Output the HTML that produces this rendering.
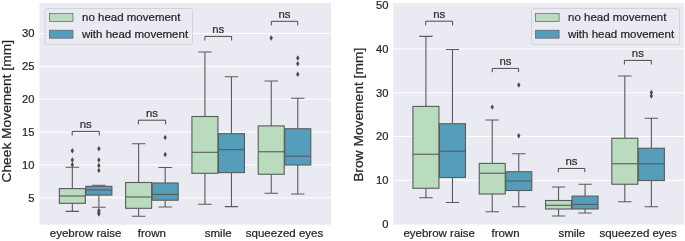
<!DOCTYPE html>
<html><head><meta charset="utf-8"><title>Boxplots</title>
<style>
html,body{margin:0;padding:0;background:#fff;}
svg{display:block;font-family:"Liberation Sans",sans-serif;}
text{stroke:#262626;stroke-width:0.22px;}
</style></head><body>
<svg width="685" height="241" viewBox="0 0 685 241">
<rect width="685" height="241" fill="#fff"/>
<rect x="39.5" y="3" width="291.50" height="221.70" fill="#eaeaf2"/>
<line x1="39.5" x2="331.0" y1="33.50" y2="33.50" stroke="#fff" stroke-width="1"/>
<line x1="39.5" x2="331.0" y1="66.35" y2="66.35" stroke="#fff" stroke-width="1"/>
<line x1="39.5" x2="331.0" y1="99.20" y2="99.20" stroke="#fff" stroke-width="1"/>
<line x1="39.5" x2="331.0" y1="132.05" y2="132.05" stroke="#fff" stroke-width="1"/>
<line x1="39.5" x2="331.0" y1="164.90" y2="164.90" stroke="#fff" stroke-width="1"/>
<line x1="39.5" x2="331.0" y1="197.75" y2="197.75" stroke="#fff" stroke-width="1"/>
<text x="34.5" y="37.30" text-anchor="end" font-size="11.2" fill="#262626">30</text>
<text x="34.5" y="70.15" text-anchor="end" font-size="11.2" fill="#262626">25</text>
<text x="34.5" y="103.00" text-anchor="end" font-size="11.2" fill="#262626">20</text>
<text x="34.5" y="135.85" text-anchor="end" font-size="11.2" fill="#262626">15</text>
<text x="34.5" y="168.70" text-anchor="end" font-size="11.2" fill="#262626">10</text>
<text x="34.5" y="201.55" text-anchor="end" font-size="11.2" fill="#262626">5</text>
<path d="M72.33 167.20V188.60M72.33 203.30V211.40M65.63 167.20H79.03M65.63 211.40H79.03" stroke="#5a5a5a" stroke-width="1.1" fill="none"/>
<rect x="59.33" y="188.60" width="26.0" height="14.70" fill="#badcbe" stroke="#5a5a5a" stroke-width="1.1"/>
<line x1="59.33" x2="85.33" y1="196.00" y2="196.00" stroke="#5a5a5a" stroke-width="1.1"/>
<path d="M72.33 148.00L74.03 150.70L72.33 153.40L70.63 150.70Z" fill="#4a4a4a"/>
<path d="M72.33 157.30L74.03 160.00L72.33 162.70L70.63 160.00Z" fill="#4a4a4a"/>
<path d="M72.33 162.00L74.03 164.70L72.33 167.40L70.63 164.70Z" fill="#4a4a4a"/>
<path d="M98.87 185.30V186.30M98.87 195.10V207.20M92.17 185.30H105.57M92.17 207.20H105.57" stroke="#5a5a5a" stroke-width="1.1" fill="none"/>
<rect x="85.87" y="186.30" width="26.0" height="8.80" fill="#549ebb" stroke="#5a5a5a" stroke-width="1.1"/>
<line x1="85.87" x2="111.87" y1="190.00" y2="190.00" stroke="#5a5a5a" stroke-width="1.1"/>
<path d="M98.87 146.10L100.57 148.80L98.87 151.50L97.17 148.80Z" fill="#4a4a4a"/>
<path d="M98.87 157.30L100.57 160.00L98.87 162.70L97.17 160.00Z" fill="#4a4a4a"/>
<path d="M98.87 162.80L100.57 165.50L98.87 168.20L97.17 165.50Z" fill="#4a4a4a"/>
<path d="M98.87 167.70L100.57 170.40L98.87 173.10L97.17 170.40Z" fill="#4a4a4a"/>
<path d="M98.87 207.80L100.57 210.50L98.87 213.20L97.17 210.50Z" fill="#4a4a4a"/>
<path d="M98.87 209.70L100.57 212.40L98.87 215.10L97.17 212.40Z" fill="#4a4a4a"/>
<path d="M98.87 211.30L100.57 214.00L98.87 216.70L97.17 214.00Z" fill="#4a4a4a"/>
<path d="M138.63 143.75V182.50M138.63 208.30V216.20M131.93 143.75H145.33M131.93 216.20H145.33" stroke="#5a5a5a" stroke-width="1.1" fill="none"/>
<rect x="125.63" y="182.50" width="26.0" height="25.80" fill="#badcbe" stroke="#5a5a5a" stroke-width="1.1"/>
<line x1="125.63" x2="151.63" y1="197.00" y2="197.00" stroke="#5a5a5a" stroke-width="1.1"/>
<path d="M165.17 167.50V183.00M165.17 200.20V207.00M158.47 167.50H171.87M158.47 207.00H171.87" stroke="#5a5a5a" stroke-width="1.1" fill="none"/>
<rect x="152.17" y="183.00" width="26.0" height="17.20" fill="#549ebb" stroke="#5a5a5a" stroke-width="1.1"/>
<line x1="152.17" x2="178.17" y1="194.40" y2="194.40" stroke="#5a5a5a" stroke-width="1.1"/>
<path d="M165.17 134.80L166.87 137.50L165.17 140.20L163.47 137.50Z" fill="#4a4a4a"/>
<path d="M165.17 151.80L166.87 154.50L165.17 157.20L163.47 154.50Z" fill="#4a4a4a"/>
<path d="M204.93 52.00V116.50M204.93 173.30V204.30M198.23 52.00H211.63M198.23 204.30H211.63" stroke="#5a5a5a" stroke-width="1.1" fill="none"/>
<rect x="191.93" y="116.50" width="26.0" height="56.80" fill="#badcbe" stroke="#5a5a5a" stroke-width="1.1"/>
<line x1="191.93" x2="217.93" y1="152.30" y2="152.30" stroke="#5a5a5a" stroke-width="1.1"/>
<path d="M231.47 76.75V133.70M231.47 172.60V206.60M224.77 76.75H238.17M224.77 206.60H238.17" stroke="#5a5a5a" stroke-width="1.1" fill="none"/>
<rect x="218.47" y="133.70" width="26.0" height="38.90" fill="#549ebb" stroke="#5a5a5a" stroke-width="1.1"/>
<line x1="218.47" x2="244.47" y1="149.60" y2="149.60" stroke="#5a5a5a" stroke-width="1.1"/>
<path d="M271.23 81.00V125.90M271.23 174.25V193.25M264.53 81.00H277.93M264.53 193.25H277.93" stroke="#5a5a5a" stroke-width="1.1" fill="none"/>
<rect x="258.23" y="125.90" width="26.0" height="48.35" fill="#badcbe" stroke="#5a5a5a" stroke-width="1.1"/>
<line x1="258.23" x2="284.23" y1="151.75" y2="151.75" stroke="#5a5a5a" stroke-width="1.1"/>
<path d="M271.23 35.30L272.93 38.00L271.23 40.70L269.53 38.00Z" fill="#4a4a4a"/>
<path d="M297.77 98.25V128.75M297.77 165.00V194.00M291.07 98.25H304.47M291.07 194.00H304.47" stroke="#5a5a5a" stroke-width="1.1" fill="none"/>
<rect x="284.77" y="128.75" width="26.0" height="36.25" fill="#549ebb" stroke="#5a5a5a" stroke-width="1.1"/>
<line x1="284.77" x2="310.77" y1="156.25" y2="156.25" stroke="#5a5a5a" stroke-width="1.1"/>
<path d="M297.77 55.30L299.47 58.00L297.77 60.70L296.07 58.00Z" fill="#4a4a4a"/>
<path d="M297.77 61.05L299.47 63.75L297.77 66.45L296.07 63.75Z" fill="#4a4a4a"/>
<path d="M297.77 71.55L299.47 74.25L297.77 76.95L296.07 74.25Z" fill="#4a4a4a"/>
<path d="M72.20 135.50V131.40H99.30V135.50" stroke="#4a4a4a" stroke-width="1" fill="none"/>
<text x="85.75" y="128.40" text-anchor="middle" font-size="11.4" fill="#333">ns</text>
<path d="M138.40 124.30V120.20H165.60V124.30" stroke="#4a4a4a" stroke-width="1" fill="none"/>
<text x="152.00" y="117.20" text-anchor="middle" font-size="11.4" fill="#333">ns</text>
<path d="M204.90 40.50V36.40H231.60V40.50" stroke="#4a4a4a" stroke-width="1" fill="none"/>
<text x="218.25" y="33.20" text-anchor="middle" font-size="11.4" fill="#333">ns</text>
<path d="M271.30 25.40V21.30H297.70V25.40" stroke="#4a4a4a" stroke-width="1" fill="none"/>
<text x="284.50" y="18.00" text-anchor="middle" font-size="11.4" fill="#333">ns</text>
<rect x="45.1" y="8.5" width="147.40" height="36.00" rx="2" ry="2" fill="#eaeaf2" fill-opacity="0.8" stroke="#d0d0d4" stroke-width="0.9"/>
<rect x="49.4" y="13.6" width="23.60" height="8" fill="#badcbe" stroke="#606060" stroke-width="0.7"/>
<rect x="49.4" y="30.2" width="23.60" height="8" fill="#549ebb" stroke="#606060" stroke-width="0.7"/>
<text x="82" y="21.4" font-size="11.5" fill="#262626">no head movement</text>
<text x="82" y="38" font-size="11.5" fill="#262626">with head movement</text>
<text x="85.60" y="237.2" text-anchor="middle" font-size="11.5" fill="#262626">eyebrow raise</text>
<text x="151.90" y="237.2" text-anchor="middle" font-size="11.5" fill="#262626">frown</text>
<text x="218.20" y="237.2" text-anchor="middle" font-size="11.5" fill="#262626">smile</text>
<text x="284.50" y="237.2" text-anchor="middle" font-size="11.5" fill="#262626">squeezed eyes</text>
<text transform="translate(10.7 111.3) rotate(-90) scale(1.045 1)" text-anchor="middle" font-size="13.2" fill="#262626">Cheek Movement [mm]</text>
<rect x="393.2" y="3" width="290.95" height="221.75" fill="#eaeaf2"/>
<line x1="393.2" x2="684.15" y1="5.20" y2="5.20" stroke="#fff" stroke-width="1" stroke-opacity="0.4"/>
<line x1="393.2" x2="684.15" y1="48.98" y2="48.98" stroke="#fff" stroke-width="1"/>
<line x1="393.2" x2="684.15" y1="92.76" y2="92.76" stroke="#fff" stroke-width="1"/>
<line x1="393.2" x2="684.15" y1="136.54" y2="136.54" stroke="#fff" stroke-width="1"/>
<line x1="393.2" x2="684.15" y1="180.32" y2="180.32" stroke="#fff" stroke-width="1"/>
<line x1="393.2" x2="684.15" y1="224.10" y2="224.10" stroke="#fff" stroke-width="1" stroke-opacity="0.4"/>
<text x="388.5" y="9.00" text-anchor="end" font-size="11.2" fill="#262626">50</text>
<text x="388.5" y="52.78" text-anchor="end" font-size="11.2" fill="#262626">40</text>
<text x="388.5" y="96.56" text-anchor="end" font-size="11.2" fill="#262626">30</text>
<text x="388.5" y="140.34" text-anchor="end" font-size="11.2" fill="#262626">20</text>
<text x="388.5" y="184.12" text-anchor="end" font-size="11.2" fill="#262626">10</text>
<text x="388.5" y="227.90" text-anchor="end" font-size="11.2" fill="#262626">0</text>
<path d="M425.93 36.40V106.40M425.93 188.25V197.75M419.23 36.40H432.63M419.23 197.75H432.63" stroke="#5a5a5a" stroke-width="1.1" fill="none"/>
<rect x="412.93" y="106.40" width="26.0" height="81.85" fill="#badcbe" stroke="#5a5a5a" stroke-width="1.1"/>
<line x1="412.93" x2="438.93" y1="154.25" y2="154.25" stroke="#5a5a5a" stroke-width="1.1"/>
<path d="M452.47 49.50V123.75M452.47 177.50V202.50M445.77 49.50H459.17M445.77 202.50H459.17" stroke="#5a5a5a" stroke-width="1.1" fill="none"/>
<rect x="439.47" y="123.75" width="26.0" height="53.75" fill="#549ebb" stroke="#5a5a5a" stroke-width="1.1"/>
<line x1="439.47" x2="465.47" y1="151.25" y2="151.25" stroke="#5a5a5a" stroke-width="1.1"/>
<path d="M492.23 120.00V163.40M492.23 194.00V211.75M485.53 120.00H498.93M485.53 211.75H498.93" stroke="#5a5a5a" stroke-width="1.1" fill="none"/>
<rect x="479.23" y="163.40" width="26.0" height="30.60" fill="#badcbe" stroke="#5a5a5a" stroke-width="1.1"/>
<line x1="479.23" x2="505.23" y1="173.25" y2="173.25" stroke="#5a5a5a" stroke-width="1.1"/>
<path d="M492.23 104.40L493.93 107.10L492.23 109.80L490.53 107.10Z" fill="#4a4a4a"/>
<path d="M518.77 153.75V171.75M518.77 190.50V206.75M512.07 153.75H525.47M512.07 206.75H525.47" stroke="#5a5a5a" stroke-width="1.1" fill="none"/>
<rect x="505.77" y="171.75" width="26.0" height="18.75" fill="#549ebb" stroke="#5a5a5a" stroke-width="1.1"/>
<line x1="505.77" x2="531.77" y1="181.00" y2="181.00" stroke="#5a5a5a" stroke-width="1.1"/>
<path d="M518.77 82.30L520.47 85.00L518.77 87.70L517.07 85.00Z" fill="#4a4a4a"/>
<path d="M518.77 133.05L520.47 135.75L518.77 138.45L517.07 135.75Z" fill="#4a4a4a"/>
<path d="M558.53 187.00V200.50M558.53 209.00V216.00M551.83 187.00H565.23M551.83 216.00H565.23" stroke="#5a5a5a" stroke-width="1.1" fill="none"/>
<rect x="545.53" y="200.50" width="26.0" height="8.50" fill="#badcbe" stroke="#5a5a5a" stroke-width="1.1"/>
<line x1="545.53" x2="571.53" y1="205.30" y2="205.30" stroke="#5a5a5a" stroke-width="1.1"/>
<path d="M585.07 184.25V196.10M585.07 209.00V213.00M578.37 184.25H591.77M578.37 213.00H591.77" stroke="#5a5a5a" stroke-width="1.1" fill="none"/>
<rect x="572.07" y="196.10" width="26.0" height="12.90" fill="#549ebb" stroke="#5a5a5a" stroke-width="1.1"/>
<line x1="572.07" x2="598.07" y1="204.40" y2="204.40" stroke="#5a5a5a" stroke-width="1.1"/>
<path d="M624.83 76.00V138.25M624.83 184.25V201.75M618.13 76.00H631.53M618.13 201.75H631.53" stroke="#5a5a5a" stroke-width="1.1" fill="none"/>
<rect x="611.83" y="138.25" width="26.0" height="46.00" fill="#badcbe" stroke="#5a5a5a" stroke-width="1.1"/>
<line x1="611.83" x2="637.83" y1="163.75" y2="163.75" stroke="#5a5a5a" stroke-width="1.1"/>
<path d="M651.37 118.25V148.25M651.37 180.50V206.75M644.67 118.25H658.07M644.67 206.75H658.07" stroke="#5a5a5a" stroke-width="1.1" fill="none"/>
<rect x="638.37" y="148.25" width="26.0" height="32.25" fill="#549ebb" stroke="#5a5a5a" stroke-width="1.1"/>
<line x1="638.37" x2="664.37" y1="163.75" y2="163.75" stroke="#5a5a5a" stroke-width="1.1"/>
<path d="M651.37 89.80L653.07 92.50L651.37 95.20L649.67 92.50Z" fill="#4a4a4a"/>
<path d="M651.37 93.30L653.07 96.00L651.37 98.70L649.67 96.00Z" fill="#4a4a4a"/>
<path d="M425.70 25.40V21.20H452.60V25.40" stroke="#4a4a4a" stroke-width="1" fill="none"/>
<text x="439.15" y="17.95" text-anchor="middle" font-size="11.4" fill="#333">ns</text>
<path d="M492.20 72.20V68.40H518.60V72.20" stroke="#4a4a4a" stroke-width="1" fill="none"/>
<text x="505.40" y="64.90" text-anchor="middle" font-size="11.4" fill="#333">ns</text>
<path d="M558.30 172.20V168.45H584.80V172.20" stroke="#4a4a4a" stroke-width="1" fill="none"/>
<text x="571.55" y="165.30" text-anchor="middle" font-size="11.4" fill="#333">ns</text>
<path d="M624.40 64.50V60.40H651.30V64.50" stroke="#4a4a4a" stroke-width="1" fill="none"/>
<text x="637.85" y="57.10" text-anchor="middle" font-size="11.4" fill="#333">ns</text>
<rect x="531.5" y="8.5" width="148.10" height="36.00" rx="2" ry="2" fill="#eaeaf2" fill-opacity="0.8" stroke="#d0d0d4" stroke-width="0.9"/>
<rect x="535.5" y="13.6" width="23.60" height="8" fill="#badcbe" stroke="#606060" stroke-width="0.7"/>
<rect x="535.5" y="30.2" width="23.60" height="8" fill="#549ebb" stroke="#606060" stroke-width="0.7"/>
<text x="568.0" y="21.4" font-size="11.5" fill="#262626">no head movement</text>
<text x="568.0" y="38" font-size="11.5" fill="#262626">with head movement</text>
<text x="439.20" y="237.2" text-anchor="middle" font-size="11.5" fill="#262626">eyebrow raise</text>
<text x="505.50" y="237.2" text-anchor="middle" font-size="11.5" fill="#262626">frown</text>
<text x="571.80" y="237.2" text-anchor="middle" font-size="11.5" fill="#262626">smile</text>
<text x="638.10" y="237.2" text-anchor="middle" font-size="11.5" fill="#262626">squeezed eyes</text>
<text transform="translate(362.6 114.8) rotate(-90) scale(1.045 1)" text-anchor="middle" font-size="13.2" fill="#262626">Brow Movement [mm]</text>
</svg>
</body></html>
